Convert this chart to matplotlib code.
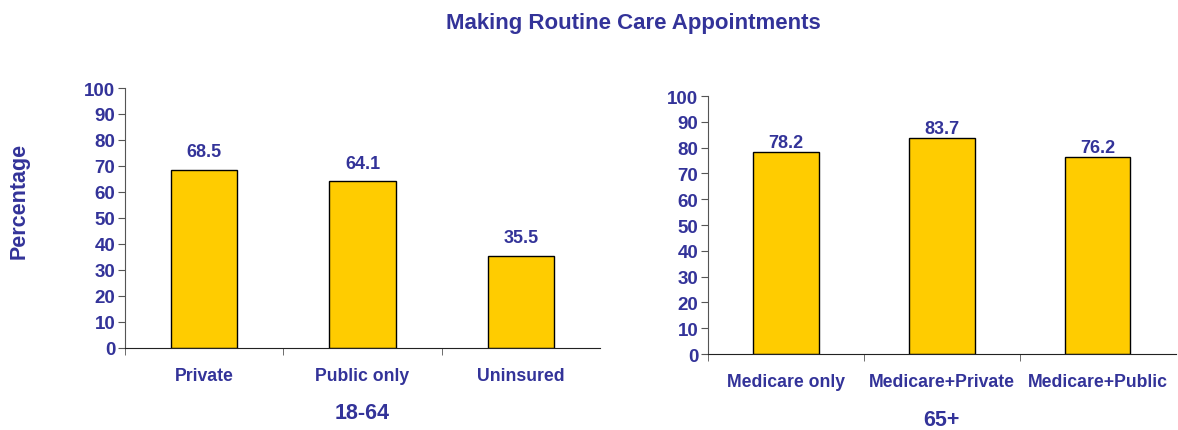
import matplotlib.pyplot as plt
import numpy as np

plt.rcParams['font.family'] = ['Liberation Sans', 'DejaVu Sans']
plt.rcParams['font.weight'] = 'bold'

title = "Making Routine Care Appointments"
ylabel = "Percentage"

cats_young = ["Private", "Public only", "Uninsured"]
vals_young = [68.5, 64.1, 35.5]
group_young = "18-64"

cats_old = ["Medicare only", "Medicare+Private", "Medicare+Public"]
vals_old = [78.2, 83.7, 76.2]
group_old = "65+"

navy = '#333399'
bar_color = '#FFCC00'

fig = plt.figure(figsize=(11.78, 4.31), dpi=100)
ax1 = fig.add_axes([0.1061, 0.1903, 0.4032, 0.6032])
ax2 = fig.add_axes([0.601, 0.1763, 0.397, 0.5986])


def draw(ax, cats, vals, group, lab_off):
    x = np.arange(len(cats))
    bars = ax.bar(x, vals, width=0.42, color=bar_color, edgecolor='black', linewidth=1)
    for b, v in zip(bars, vals):
        ax.annotate(f"{v:.1f}", (b.get_x() + b.get_width() / 2, v),
                    xytext=(0, lab_off), textcoords='offset points',
                    ha='center', va='bottom', color=navy, fontsize=13, fontweight='bold')
    ax.set_xlim(-0.5, len(cats) - 0.5)
    ax.set_ylim(0, 100)
    ax.set_yticks(range(0, 101, 10))
    ax.set_xticks(x)
    ax.set_xticklabels(cats)
    ax.set_xticks(np.arange(len(cats)) - 0.5, minor=True)
    ax.tick_params(axis='x', which='major', length=0, pad=14, labelsize=12.7, labelcolor=navy)
    ax.tick_params(axis='x', which='minor', length=5, direction='out', color='#555555')
    ax.tick_params(axis='y', length=5, labelsize=13.5, labelcolor=navy, color='#555555', pad=2)
    for lab in ax.get_xticklabels() + ax.get_yticklabels():
        lab.set_fontweight('bold')
    ax.spines['top'].set_visible(False)
    ax.spines['right'].set_visible(False)
    ax.spines['left'].set_color('#555555')
    ax.spines['bottom'].set_color('#222222')
    ax.set_xlabel(group, color=navy, fontsize=15.5, fontweight='bold', labelpad=13)


draw(ax1, cats_young, vals_young, group_young, 7)
draw(ax2, cats_old, vals_old, group_old, 1)

fig.text(0.016, 0.534, ylabel, rotation=90, ha='center', va='center',
         color=navy, fontsize=15.5, fontweight='bold')
fig.text(0.538, 0.946, title, ha='center', va='center',
         color=navy, fontsize=16, fontweight='bold')

fig.savefig('out.png', dpi=100)
